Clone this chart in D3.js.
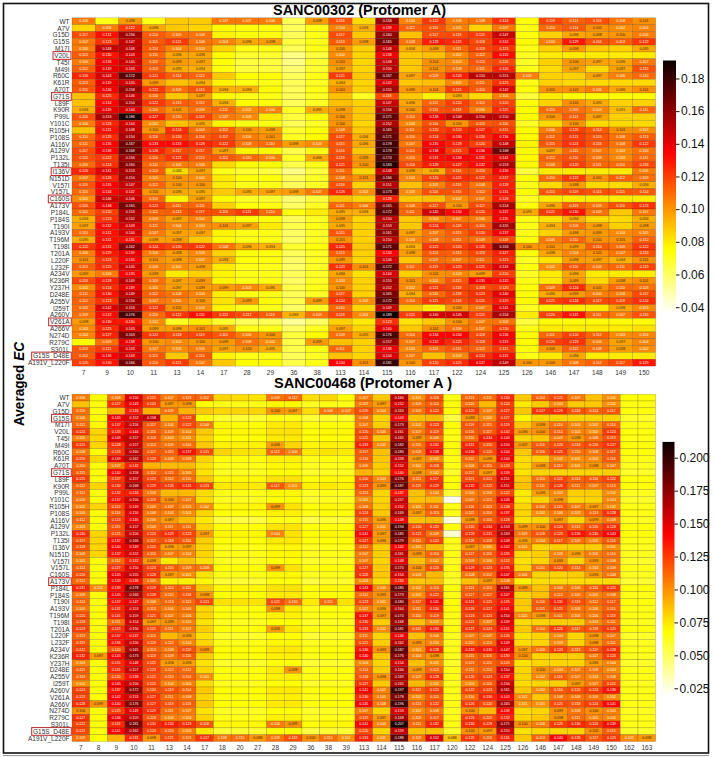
<!DOCTYPE html>
<html><head><meta charset="utf-8">
<script src="https://cdn.jsdelivr.net/npm/d3@7"></script>
<style>body{margin:0;background:#fff}svg{display:block}text{font-family:"Liberation Sans",Arial,sans-serif}</style>
</head><body>
<svg id="c" width="714" height="757"></svg>
<script>
// ---------------- DATA ----------------
const rowLabels = ["WT","A7V","G15D","G15S","M17I","V20L","T45I","M49I","R60C","K61R","A70T","G71S","L89F","K90R","P99L","Y101C","R105H","P108S","A116V","A129V","P132L","T135I","I136V","N151D","V157I","V157L","C160S","A173V","P184L","P184S","T190I","A193V","T196M","T198I","T201A","L220F","L232F","A234V","K236R","Y237H","D248E","A255V","I259T","A260V","V261A","A266V","N274D","R279C","S301L","G15S_D48E","A191V_L220F"];
const topCols = [7,9,10,11,13,14,17,28,29,36,38,113,114,115,116,117,122,124,125,126,146,147,148,149,150];
const botCols = [7,8,9,10,11,13,14,17,18,20,27,28,29,36,38,39,113,114,115,116,117,120,122,124,125,126,146,147,148,149,150,162,163];
const topBoxed = ["V20L","G71S","I136V","C160S","V261A","G15S_D48E"];
const botBoxed = ["G15S","G71S","A173V","G15S_D48E"];
const topTitle = "SANC00302 (Protomer A)";
const botTitle = "SANC00468 (Protomer A )";
const topTicks = [0.04,0.06,0.08,0.10,0.12,0.14,0.16,0.18];
const botTicks = [0.025,0.050,0.075,0.100,0.125,0.150,0.175,0.200];
const topRange = [0.036, 0.191];
const botRange = [0.019, 0.212];
// averaged EC x1000; negative = value estimated from colour, cell not annotated
const topVals = [
[106,-72,98,-72,-88,-88,107,107,106,-62,98,116,-84,158,104,122,106,108,124,-74,119,113,116,108,101],
[-85,106,122,96,-88,-85,-76,-74,-74,-62,-72,104,94,139,112,116,105,-86,107,-72,110,114,101,102,104],
[117,131,156,114,109,108,-78,-74,-74,-62,-72,117,-88,160,-90,117,118,121,147,-74,-86,96,98,100,106],
[107,123,147,115,121,108,104,96,98,-66,-72,113,98,165,108,128,125,118,132,-76,106,129,116,113,122],
[106,148,148,114,104,103,-85,-72,-72,-62,-72,100,-86,148,94,98,111,119,123,-72,-86,98,-88,-86,95],
[113,130,143,111,96,96,-76,-68,-68,-55,-66,102,-85,138,-88,-90,102,112,132,-70,-80,-80,-80,-80,-80],
[106,136,145,112,99,97,-74,-66,-66,-55,-68,101,-85,148,-88,101,103,115,118,-70,-86,100,97,96,107],
[112,139,143,113,95,94,-74,-66,-66,-58,-68,97,-85,150,-88,101,108,111,126,-72,-84,97,-84,97,116],
[126,143,172,121,114,112,-88,-76,-76,-62,-72,121,-88,167,97,109,128,150,151,105,-86,-86,97,105,110],
[113,139,145,99,-90,94,-78,-72,-72,-62,-70,94,-85,142,-88,-90,103,111,123,-72,-86,-84,-84,-84,-84],
[115,136,158,122,109,115,94,94,-76,-62,-72,101,-86,155,99,101,121,114,142,-74,101,101,106,96,101],
[-90,125,146,110,-88,97,-76,-72,-72,-62,-70,-90,-70,118,-88,-78,94,-84,106,-66,-80,-76,-76,-76,-76],
[-90,134,154,122,113,112,94,-76,-74,-62,-70,-90,-86,147,96,112,120,112,120,-74,-86,101,95,-86,-86],
[94,139,144,110,101,108,111,102,104,-70,95,98,-88,156,100,116,118,106,125,-76,110,109,104,91,111],
[116,153,186,127,110,119,107,103,-80,-66,-74,100,-88,171,110,138,148,150,150,-76,100,113,97,-86,-86],
[106,126,144,102,-90,95,-78,-72,-72,-62,-70,100,-85,152,103,116,100,115,116,-70,-84,100,-84,-84,-84],
[-90,131,148,100,124,109,112,100,98,-68,-74,108,-88,165,111,120,124,127,121,-76,106,120,114,101,102],
[110,125,154,116,120,114,117,106,101,-70,-76,117,94,171,110,124,130,126,136,-76,112,121,115,108,113],
[111,135,167,133,133,126,122,108,110,98,103,115,96,178,107,135,128,120,148,-78,115,124,116,108,122],
[117,136,168,126,117,117,97,-78,-76,-64,-72,116,-88,178,115,138,121,136,168,-76,97,111,107,103,108],
[116,122,156,116,123,114,114,110,105,-70,96,118,99,174,110,131,134,131,141,-76,112,116,108,103,111],
[110,124,160,111,106,106,-84,-76,-76,-64,-72,121,100,183,118,128,127,132,153,-76,108,120,111,110,118],
[126,141,153,113,84,97,-72,-68,-66,-55,-66,111,-85,148,98,94,116,116,136,-66,-80,-80,-80,-80,106],
[107,126,154,105,100,102,-80,-74,-74,-62,-70,108,101,166,104,120,125,122,127,-74,110,122,101,112,109],
[116,135,147,112,100,100,-80,-72,-72,-62,-70,116,-86,151,-90,105,116,108,128,-72,-84,98,-84,-84,94],
[110,134,142,100,96,95,-88,95,97,98,107,126,102,173,103,116,116,112,131,-76,115,119,116,115,114],
[102,146,146,110,-78,97,-76,-70,-68,-58,-66,-90,-85,128,-88,-90,102,107,128,-70,-80,-80,-80,-80,-80],
[116,138,165,122,111,111,-86,-74,-74,-60,-70,111,106,165,108,117,100,117,154,-74,96,113,108,116,123],
[110,120,153,112,113,117,116,121,110,-74,-80,95,94,172,111,145,134,120,137,95,121,130,109,-88,107],
[94,123,152,106,97,104,-80,-74,-74,-62,-70,98,-85,150,-88,103,107,106,135,-72,-82,94,-84,-84,94],
[97,132,143,111,104,103,101,97,-80,-64,-72,95,-86,153,-88,124,118,115,155,-72,94,109,98,-86,98],
[110,131,144,107,97,97,-78,-72,-72,-60,-70,115,-86,161,97,107,113,120,137,-72,-86,98,99,103,105],
[95,131,131,98,98,-88,-76,-72,-72,-60,-70,101,-86,150,103,108,111,109,118,-74,106,111,101,101,112],
[122,131,162,124,120,122,108,96,94,-68,-74,125,-88,171,94,122,120,125,163,100,101,99,113,109,122],
[106,129,139,106,98,103,-86,-74,-74,-62,-70,113,-86,134,98,114,113,118,127,-74,96,104,101,107,116],
[101,123,135,101,98,102,94,-74,-74,-60,-70,99,-85,146,-88,109,107,111,123,-70,-82,98,97,94,101],
[113,125,145,106,102,98,-80,-72,-72,-60,-70,123,101,172,111,119,123,125,143,-74,102,116,108,111,119],
[99,106,135,99,-80,-86,-78,-72,-72,-62,-70,96,-82,144,-86,101,103,99,120,-70,-80,96,-80,-80,-80],
[118,128,149,109,97,99,-78,-72,-72,-60,-70,103,-86,155,101,105,115,135,132,-72,-80,99,-84,98,101],
[102,124,139,105,97,99,99,103,95,-64,-72,100,-86,152,102,121,118,118,120,-74,109,124,101,110,109],
[111,130,149,112,108,104,-80,-72,-72,-62,-70,117,-86,165,94,110,118,123,140,-74,95,99,105,106,117],
[112,123,156,107,105,100,-82,99,-76,-64,99,124,102,172,110,121,118,121,129,-76,121,124,117,119,124],
[110,142,153,122,101,103,-78,-72,-72,-60,-70,110,-85,149,-88,-80,100,107,141,-70,-78,-80,-80,96,103],
[109,132,176,110,122,131,121,117,113,93,109,118,103,189,121,145,145,121,154,-80,120,131,111,107,116],
[98,130,130,102,-70,-80,-68,-62,-62,-52,-60,-86,-80,123,-82,-88,100,107,108,-66,-76,-76,-76,-76,-76],
[103,125,143,99,98,101,95,-72,-72,-60,-70,97,-85,140,-88,101,109,107,120,-72,-80,-80,-80,-80,-82],
[104,127,163,122,118,119,115,106,100,-66,-76,109,95,176,110,134,134,118,136,-76,111,120,112,103,104],
[-76,109,138,100,103,100,99,108,102,-64,99,-90,-86,157,107,132,125,118,133,-76,120,123,106,97,104],
[114,121,143,107,103,106,97,100,95,-64,-72,111,-86,138,103,110,115,112,121,-74,100,112,108,98,102],
[114,136,143,115,-88,114,-78,-72,-72,-62,-70,-90,-85,144,107,-90,103,124,132,-72,-80,96,-80,-80,-80],
[120,130,166,114,121,107,-88,-76,-76,-64,-72,134,101,181,100,120,125,137,149,100,100,108,112,117,129]
];
const botVals = [
[106,-68,108,150,121,107,113,112,-80,-78,-76,109,112,-78,-80,-68,107,-84,160,101,118,-64,113,111,130,-84,114,121,107,-86,101,-66,-66],
[-86,-66,127,143,124,97,98,-68,-64,-64,-64,-70,-70,-62,-64,-64,107,97,152,109,115,-66,110,-88,124,-74,-84,103,-84,-84,101,-64,-64],
[110,-66,-90,133,-90,109,-90,-84,-80,-80,-80,100,97,-78,108,107,120,104,163,109,122,-68,125,107,127,-84,127,129,118,114,117,-66,-66],
[106,-68,145,152,158,-90,122,-66,-60,-58,-58,-64,-64,-58,-60,-60,108,-80,143,-86,-88,-55,98,102,127,-70,-80,-80,-80,-80,-80,-60,-60],
[112,-70,137,156,117,106,122,108,-70,-68,-68,-74,-74,-66,-68,-68,107,-82,173,102,123,-66,119,115,129,-84,98,110,103,102,114,-64,-64],
[124,-80,133,144,116,109,104,-84,-70,-70,-70,-76,-76,-68,-70,-70,120,106,161,107,119,-66,116,117,132,96,100,114,104,102,124,-66,-66],
[105,-80,149,157,118,103,101,-80,-68,-68,-68,-74,-74,-66,-68,-68,121,-84,165,99,109,-64,110,134,144,-80,-84,107,98,108,119,-64,-64],
[125,-80,128,157,113,109,110,-84,-72,-72,-72,96,-80,-70,-72,-72,133,102,182,110,131,-66,131,120,150,97,116,120,118,120,127,-66,-66],
[108,-68,126,160,117,115,137,121,-80,-76,-76,112,106,-74,-76,-74,117,-86,180,109,138,-66,136,120,144,-84,116,125,110,108,117,-66,-66],
[120,-80,149,162,123,108,108,-80,-66,-66,-66,-72,-72,-64,-66,-66,116,-84,158,97,102,-64,112,99,144,-78,-82,102,101,102,116,-64,-64],
[110,-66,107,132,-90,-88,-88,-76,-64,-64,-64,-70,-70,-62,-64,-64,109,-82,152,102,118,-64,106,115,123,-78,98,112,101,98,107,-62,-62],
[115,-66,140,158,114,115,105,-76,-62,-62,-62,-68,-68,-60,-62,-62,-90,-80,140,98,102,-60,117,97,139,-76,-80,-80,-80,-80,-82,-60,-60],
[125,-66,127,157,123,112,110,-84,-70,-70,-70,-76,-76,-68,-70,-70,120,103,176,111,127,-66,121,121,151,-84,110,121,114,116,122,-66,-66],
[112,-80,130,168,129,126,131,123,-74,-74,-74,117,101,-72,-74,-72,123,99,187,119,129,-66,135,122,151,-86,111,126,111,107,113,-66,-66],
[112,-66,132,134,108,-88,-88,-78,-64,-64,-64,-70,-70,-62,-64,-64,113,-80,137,-86,104,-58,106,108,122,-74,96,103,-82,-82,102,-62,-62],
[109,-66,137,156,119,100,107,-78,-62,-62,-62,-68,-68,-60,-62,-62,101,-80,157,-86,-88,-22,109,113,146,-74,-80,98,-80,-80,103,-60,-60],
[105,-80,122,149,109,109,105,102,-70,-70,-70,99,-76,-68,-70,-70,108,-82,152,101,111,-64,116,113,128,-80,108,115,107,97,102,-64,-64],
[106,-66,116,150,108,106,101,-80,-66,-66,-66,-72,-72,-64,-66,-66,124,-84,169,97,113,-64,112,114,137,-80,101,106,103,113,128,-64,-64],
[112,-66,124,146,106,97,-88,-74,-56,-56,-56,-64,-64,-54,-58,-58,115,96,148,-86,-88,-25,98,116,128,-76,-80,97,-80,99,108,-62,-62],
[103,-66,119,157,108,111,111,-80,-68,-68,-68,-76,-76,-66,-68,-68,127,101,194,120,123,-66,120,134,153,99,100,124,112,120,128,-66,-66],
[130,-80,121,156,124,129,123,97,-70,-70,-70,104,-76,-68,-70,-70,141,97,185,123,109,-28,128,131,163,109,118,125,136,130,143,-66,-66],
[117,-80,137,166,117,118,116,-82,-68,-68,-68,-74,-74,-66,-68,-68,127,96,179,111,122,-64,118,118,148,96,104,117,109,105,116,-64,-64],
[118,-80,140,149,121,96,97,-80,-64,-64,-64,-70,-70,-62,-64,-64,112,-82,142,101,-88,-62,97,101,142,101,-80,-82,-82,-82,101,-62,-62],
[108,-80,137,152,115,107,104,-80,-64,-64,-64,-70,-70,-62,-64,-64,107,-82,161,99,114,-64,117,116,135,-78,-82,105,96,106,110,-62,-62],
[105,-66,112,132,98,-74,-86,-76,-62,-62,-62,-68,-68,-60,-62,-62,107,-80,148,-86,102,-62,109,106,122,-76,-80,99,-80,99,108,-60,-60],
[114,-66,127,150,124,115,109,108,-68,-68,-68,99,-76,-66,-68,-68,127,-84,170,100,120,-64,129,123,135,-80,110,120,113,104,109,-64,-64],
[120,-66,145,155,128,97,101,-76,-64,-64,-64,-70,-70,-62,-64,-64,128,-84,154,103,-88,-62,108,112,147,106,-80,-80,-82,96,108,-62,-62],
[112,-66,139,136,109,-72,-72,-70,-58,-58,-58,-66,-66,-56,-60,-60,103,-78,133,-84,-86,-60,-86,97,108,-72,-78,-78,-78,-78,-78,-58,-58],
[131,102,139,178,128,114,115,-84,-70,-70,-70,-76,-76,-68,-70,-70,143,103,185,102,114,-66,114,114,161,99,-86,108,108,116,125,-66,-66],
[108,-66,145,166,128,110,118,98,-68,-68,-68,-74,-74,-66,-68,-68,112,99,173,102,122,-64,117,117,147,-80,-86,112,109,105,108,-64,-64],
[114,-66,137,147,108,113,113,121,-76,-76,-76,121,110,-74,111,-76,123,101,180,117,141,-66,131,125,135,-84,116,131,119,112,117,-66,-66],
[109,-66,131,153,113,106,109,-80,-66,-66,-66,98,-74,-64,-66,-66,107,96,164,111,130,-66,126,127,141,-82,115,121,108,106,115,-64,-64],
[120,-66,131,159,121,107,106,-80,-66,-66,-66,-72,-72,-64,-66,-66,137,97,174,110,119,-64,123,124,154,102,98,111,106,106,119,-64,-64],
[118,-66,111,154,97,99,105,-76,-62,-62,-62,-68,-68,-60,-62,-62,130,-82,168,-86,101,-62,121,107,149,-78,-80,-82,-82,103,111,-62,-62],
[123,-66,129,156,121,111,107,-82,-68,-68,-68,96,-74,-66,-68,-68,133,102,181,116,133,-66,127,123,141,-84,110,125,117,118,125,-66,-66],
[113,-66,137,137,115,-88,96,-76,-60,-60,-60,-68,-68,-58,-60,-60,111,-80,146,-86,106,-62,107,107,126,-76,-80,103,-80,98,107,-60,-60],
[119,-66,136,156,119,112,104,-80,-64,-64,-64,-70,-70,-62,-64,-64,121,-82,162,99,104,-62,110,113,149,-78,-80,103,-80,98,111,-62,-62],
[122,-66,120,165,113,108,119,99,-68,-68,-68,-74,-74,-66,-68,-68,136,99,187,101,128,-64,133,135,147,97,109,124,113,119,128,-64,-64],
[132,97,143,173,119,109,116,-82,-66,-66,-66,-72,-72,-64,-66,-66,140,-84,176,104,98,-62,111,116,130,100,-80,-82,-82,107,124,-62,-62],
[104,-66,131,148,121,96,96,-76,-60,-60,-60,-66,-66,-58,-60,-60,103,-80,154,-86,101,-60,113,115,120,-76,-80,-80,-80,96,104,-60,-60],
[115,-66,131,157,123,112,112,-80,-66,-66,-66,-74,98,-64,-66,-66,114,-82,166,99,112,-64,111,114,154,-80,100,103,107,108,103,-64,-64],
[113,-66,120,138,121,112,114,101,-66,-66,-66,-72,-72,-64,-66,-66,118,98,169,107,128,-64,120,123,137,-80,102,116,107,104,108,-64,-64],
[101,-66,145,156,121,104,105,-78,-62,-62,-62,-68,-68,-60,-62,-62,127,-84,165,-88,102,-62,103,116,156,-78,-80,-82,97,107,121,-62,-62],
[123,-66,137,172,120,119,114,-84,-68,-68,-68,-74,-74,-66,-68,-68,141,105,197,117,123,-64,122,123,161,-84,102,116,120,124,136,-64,-64],
[123,-66,142,153,127,111,108,-80,-66,-66,-66,-72,-72,-64,-66,-66,130,105,178,102,115,-64,110,130,143,102,-84,108,108,109,102,-64,-64],
[128,99,140,176,127,119,116,-84,-68,-68,-68,-74,-74,-66,-68,-68,145,108,196,113,122,-64,126,120,165,101,101,121,118,124,141,-64,-64],
[100,-66,125,149,129,111,107,-76,-62,-62,-62,-68,-68,-60,-62,-62,107,-80,153,102,108,-62,100,-88,139,-78,-80,99,108,100,105,-62,-62],
[127,-66,146,159,118,104,104,-80,-64,-64,-64,-72,-72,-62,-64,-64,119,97,168,109,117,-64,126,119,132,-80,-84,98,111,105,105,-64,-64],
[122,-66,131,181,130,134,129,118,-70,-70,-70,106,99,-68,-70,-70,141,104,207,111,132,-64,130,128,171,100,106,125,130,126,139,-64,-64],
[122,-66,141,162,123,116,105,-74,-58,-58,-58,-66,-66,-56,-58,-58,120,-80,159,-86,-86,-60,100,97,155,-76,-80,-80,-80,100,115,-60,-60],
[109,-68,-90,131,98,121,113,127,108,110,98,109,119,100,110,101,133,101,188,109,152,86,126,116,131,-84,113,140,126,117,125,102,98]
];

// ---------------- COLOUR MAP (matplotlib hot_r) ----------------
function hot(x){
  const cl=v=>Math.max(0,Math.min(1,v));
  const r = x<0.365079 ? 0.0416+(1-0.0416)*x/0.365079 : 1;
  const g = cl((x-0.365079)/(0.746032-0.365079));
  const b = cl((x-0.746032)/(1-0.746032));
  return d3.rgb(r*255,g*255,b*255);
}
const hotR = t => hot(1-Math.max(0,Math.min(1,t)));
function relLum(c){
  const f=v=>{v/=255;return v<=0.03928?v/12.92:Math.pow((v+0.055)/1.055,2.4);};
  return 0.2126*f(c.r)+0.7152*f(c.g)+0.0722*f(c.b);
}

const svg = d3.select("#c");
svg.append("rect").attr("x",3.5).attr("y",3.5).attr("width",705).attr("height",749.5)
  .attr("fill","none").attr("stroke","#111").attr("stroke-width",1.6);
svg.append("line").attr("x1",3).attr("x2",709).attr("y1",755.6).attr("y2",755.6)
  .attr("stroke","#777").attr("stroke-width",0.8);

let gid=0;
function drawHeatmap(o){
  const g = svg.append("g");
  const x = d3.scaleBand().domain(o.cols.map(String)).range([72,655.7]);
  const y = d3.scaleBand().domain(rowLabels).range([o.y0,o.y1]);
  const norm = d3.scaleLinear().domain(o.range).range([0,1]);
  const cells=[];
  o.vals.forEach((row,i)=>row.forEach((v,j)=>cells.push({r:rowLabels[i],c:String(o.cols[j]),v:Math.abs(v)/1000,show:v>0})));
  g.selectAll("rect.cell").data(cells).join("rect")
    .attr("x",d=>x(d.c)).attr("y",d=>y(d.r))
    .attr("width",x.bandwidth()).attr("height",y.bandwidth())
    .attr("fill",d=>hotR(norm(d.v)))
    .attr("stroke","rgba(40,30,0,0.35)").attr("stroke-width",0.5);
  const fmt=d3.format(".3f");
  g.selectAll("text.ann").data(cells.filter(d=>d.show)).join("text")
    .attr("x",d=>x(d.c)+x.bandwidth()/2).attr("y",d=>y(d.r)+y.bandwidth()/2)
    .attr("text-anchor","middle").attr("dominant-baseline","central")
    .attr("font-size",3.6)
    .attr("fill",d=>relLum(hotR(norm(d.v)))>0.408?"#262626":"#fff")
    .text(d=>fmt(d.v));
  // row labels
  const rl = g.selectAll("text.rl").data(rowLabels).join("text")
    .attr("x",69.5).attr("y",d=>y(d)+y.bandwidth()/2)
    .attr("text-anchor","end").attr("dominant-baseline","central")
    .attr("font-size",6.5).attr("fill","#333").text(d=>d);
  rl.filter(d=>o.boxed.includes(d)).each(function(d){
    const bb=this.getBBox();
    g.append("rect").attr("x",bb.x-1.3).attr("y",y(d)-0.3).attr("width",bb.width+2.4).attr("height",y.bandwidth()+0.9)
      .attr("fill","none").attr("stroke","#c0262c").attr("stroke-width",1);
  });
  // column labels
  g.selectAll("text.cl").data(o.cols).join("text")
    .attr("x",d=>x(String(d))+x.bandwidth()/2).attr("y",o.y1+6)
    .attr("text-anchor","middle").attr("dominant-baseline","central")
    .attr("font-size",6.5).attr("fill","#333").text(d=>d);
  // title
  svg.append("text").attr("x",o.tx).attr("y",o.ty).attr("text-anchor","middle")
    .attr("font-size",14.4).attr("font-weight","bold").attr("fill","#000")
    .attr("textLength",o.tw).attr("lengthAdjust","spacingAndGlyphs").text(o.title);
  // colorbar
  const id="grad"+(gid++);
  const cb = d3.scaleLinear().domain(o.range).range(o.cbY);
  const grad = svg.append("defs").append("linearGradient").attr("id",id)
    .attr("x1",0).attr("y1",1).attr("x2",0).attr("y2",0);
  d3.range(0,41).forEach(k=>grad.append("stop").attr("offset",k/40).attr("stop-color",hotR(k/40)));
  svg.append("rect").attr("x",o.cbX).attr("y",o.cbY[1]).attr("width",o.cbW).attr("height",o.cbY[0]-o.cbY[1])
    .attr("fill",`url(#${id})`);
  const ax = svg.append("g").attr("transform",`translate(${o.cbX+o.cbW},0)`)
    .call(d3.axisRight(cb).tickValues(o.ticks).tickFormat(d3.format(o.tf)).tickSize(3.5).tickPadding(1.5));
  ax.select(".domain").remove();
  ax.selectAll("text").attr("font-size",12).attr("fill","#111").style("font-family",'"Liberation Sans",Arial,sans-serif');
  ax.selectAll("line").attr("stroke","#111");
}

drawHeatmap({cols:topCols,vals:topVals,range:topRange,y0:17.8,y1:366.1,boxed:topBoxed,
  title:topTitle,tx:359.5,ty:14.6,tw:173,cbX:663,cbW:13,cbY:[313.7,60.5],ticks:topTicks,tf:".2f"});
drawHeatmap({cols:botCols,vals:botVals,range:botRange,y0:394.2,y1:741.5,boxed:botBoxed,
  title:botTitle,tx:363,ty:388.3,tw:178,cbX:662.5,cbW:12,cbY:[696.2,441.9],ticks:botTicks,tf:".3f"});

// y-axis label
const yl = svg.append("text").attr("transform","translate(24,384) rotate(-90)")
  .attr("text-anchor","middle").attr("font-size",14.5).attr("font-weight","bold").attr("fill","#000")
  .attr("textLength",84).attr("lengthAdjust","spacingAndGlyphs");
yl.append("tspan").text("Averaged ");
yl.append("tspan").attr("font-style","italic").text("EC");
</script>
</body></html>
